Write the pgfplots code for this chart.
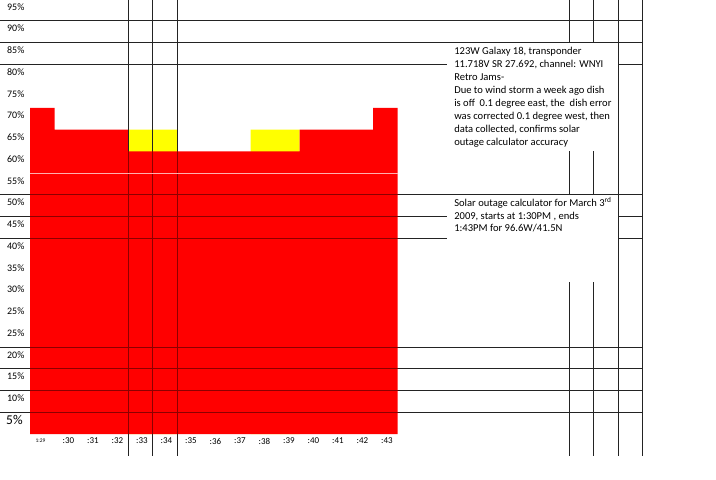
\documentclass[border=0pt]{standalone}
\usepackage{pgfplots}
\pgfplotsset{compat=1.18}
\usepackage{fontspec}
\setmainfont{Carlito}

\definecolor{xlred}{RGB}{255,0,0}
\definecolor{xlyellow}{RGB}{255,255,0}
\definecolor{cellline}{RGB}{35,35,35}
\definecolor{darkline}{RGB}{140,0,0}
\definecolor{paleline}{RGB}{255,175,175}

\begin{document}
\begin{tikzpicture}[
  ylabnode/.style={anchor=west, inner sep=0pt, font=\fontsize{10}{12}\selectfont},
  xlabnode/.style={anchor=center, inner sep=0pt, font=\fontsize{9}{11}\selectfont},
  note/.style={anchor=base west, inner sep=0pt, font=\fontsize{10.6}{13}\selectfont},
]
\begin{axis}[
  name=sheet,
  scale only axis, width=716bp, height=480bp,
  xmin=-1.7245, xmax=27.5, ymin=-10.55, ymax=99.79,
  axis lines=none, xtick=\empty, ytick=\empty,
  ybar, bar width=1,
]
% yellow = extra level during the outage (drawn first, red goes over it)
\addplot[fill=xlyellow, draw=none, bar shift=0pt] coordinates {
  (4,70) (5,70) (9,70) (10,70)};
\addplot[fill=xlred, draw=none, bar shift=0pt] coordinates {
  (0,75) (1,70) (2,70) (3,70) (4,65) (5,65) (6,65) (7,65)
  (8,65) (9,65) (10,65) (11,70) (12,70) (13,70) (14,75)};

% cell borders
\pgfplotsinvokeforeach{5,10,15,20,45,50,55,85,90,95}{
  \draw[cellline, line width=0.8bp] (axis cs:-1.7245,#1) -- (axis cs:24.5,#1);}
\pgfplotsinvokeforeach{3.5,4.5,5.5,21.5,22.5,23.5,24.5}{
  \draw[cellline, line width=0.8bp] (axis cs:#1,-5) -- (axis cs:#1,99.79);}

% text boxes
\fill[white] (axis cs:16.5,65) rectangle (axis cs:23.5,90);
\fill[white] (axis cs:16.5,35) rectangle (axis cs:23.5,55);
\draw[cellline, line width=0.8bp] (axis cs:-1.7245,90) -- (axis cs:24.5,90);
\draw[cellline, line width=0.8bp] (axis cs:-1.7245,55) -- (axis cs:24.5,55);
\draw[cellline, line width=0.8bp] (axis cs:23.5,-5) -- (axis cs:23.5,99.79);

% borders seen through the red fill
\pgfplotsinvokeforeach{5,10,15,20,45,50,55}{
  \draw[darkline, line width=0.8bp] (axis cs:-0.5,#1) -- (axis cs:14.5,#1);}
\pgfplotsinvokeforeach{3.5,4.5,5.5}{
  \draw[darkline, line width=0.8bp] (axis cs:#1,0) -- (axis cs:#1,65);}
\draw[paleline, line width=0.8bp] (axis cs:-0.5,60) -- (axis cs:14.5,60);

% row labels
\node[anchor=west, inner sep=0pt, font=\fontsize{13.5}{15}\selectfont] at (axis cs:-1.48,3.24) {5\%};
\node[ylabnode] at (axis cs:-1.44,8.24) {10\%};
\node[ylabnode] at (axis cs:-1.44,13.24) {15\%};
\node[ylabnode] at (axis cs:-1.44,18.24) {20\%};
\node[ylabnode] at (axis cs:-1.44,23.24) {25\%};
\node[ylabnode] at (axis cs:-1.44,28.24) {25\%};
\node[ylabnode] at (axis cs:-1.44,33.24) {30\%};
\node[ylabnode] at (axis cs:-1.44,38.24) {35\%};
\node[ylabnode] at (axis cs:-1.44,43.24) {40\%};
\node[ylabnode] at (axis cs:-1.44,48.24) {45\%};
\node[ylabnode] at (axis cs:-1.44,53.24) {50\%};
\node[ylabnode] at (axis cs:-1.44,58.24) {55\%};
\node[ylabnode] at (axis cs:-1.44,63.24) {60\%};
\node[ylabnode] at (axis cs:-1.44,68.24) {65\%};
\node[ylabnode] at (axis cs:-1.44,73.24) {70\%};
\node[ylabnode] at (axis cs:-1.44,78.24) {75\%};
\node[ylabnode] at (axis cs:-1.44,83.24) {80\%};
\node[ylabnode] at (axis cs:-1.44,88.24) {85\%};
\node[ylabnode] at (axis cs:-1.44,93.24) {90\%};
\node[ylabnode] at (axis cs:-1.44,98.24) {95\%};

% minute labels
\node[anchor=center, inner sep=0pt, font=\fontsize{5.5}{6}\selectfont] at (axis cs:-0.07,-1.45) {1:29};
\node[xlabnode] at (axis cs:1.07,-1.59) {:30};
\node[xlabnode] at (axis cs:2.07,-1.59) {:31};
\node[xlabnode] at (axis cs:3.07,-1.59) {:32};
\node[xlabnode] at (axis cs:4.07,-1.59) {:33};
\node[xlabnode] at (axis cs:5.07,-1.59) {:34};
\node[xlabnode] at (axis cs:6.07,-1.59) {:35};
\node[xlabnode] at (axis cs:7.07,-1.59) {:36};
\node[xlabnode] at (axis cs:8.07,-1.59) {:37};
\node[xlabnode] at (axis cs:9.07,-1.59) {:38};
\node[xlabnode] at (axis cs:10.07,-1.59) {:39};
\node[xlabnode] at (axis cs:11.07,-1.59) {:40};
\node[xlabnode] at (axis cs:12.07,-1.59) {:41};
\node[xlabnode] at (axis cs:13.07,-1.59) {:42};
\node[xlabnode] at (axis cs:14.07,-1.59) {:43};

% notes
\node[note] at (axis cs:16.81,87.15) {123W Galaxy 18, transponder};
\node[note] at (axis cs:16.81,84.16) {11.718V SR 27.692, channel: WNYI};
\node[note] at (axis cs:16.81,81.17) {Retro Jams-};
\node[note] at (axis cs:16.81,78.18) {Due to wind storm a week ago dish};
\node[note] at (axis cs:16.81,75.20) {is off\ \ 0.1 degree east, the\ \ dish error};
\node[note] at (axis cs:16.81,72.21) {was corrected 0.1 degree west, then};
\node[note] at (axis cs:16.81,69.22) {data collected, confirms solar};
\node[note] at (axis cs:16.81,66.23) {outage calculator accuracy};

\node[note] at (axis cs:16.81,52.28) {Solar outage calculator for March 3\textsuperscript{rd}};
\node[note] at (axis cs:16.81,49.40) {2009, starts at 1:30PM , ends};
\node[note] at (axis cs:16.81,46.53) {1:43PM for 96.6W/41.5N};
\end{axis}
\path (sheet.south west) rectangle (sheet.north east);
\end{tikzpicture}
\end{document}
